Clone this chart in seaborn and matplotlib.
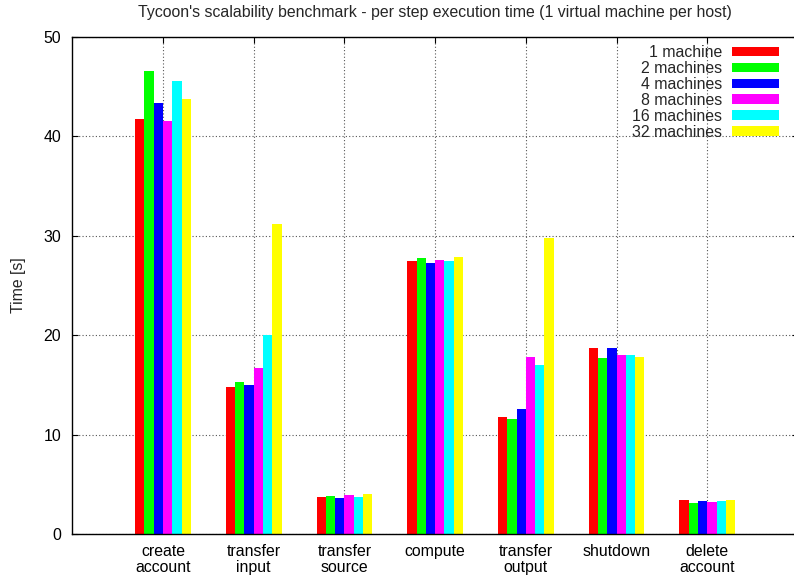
import matplotlib
matplotlib.use("Agg")
import matplotlib.pyplot as plt
from matplotlib.patches import Patch
import seaborn as sns
import pandas as pd

steps = ["create\naccount", "transfer\ninput", "transfer\nsource", "compute",
         "transfer\noutput", "shutdown", "delete\naccount"]
series = ["1 machine", "2 machines", "4 machines", "8 machines", "16 machines", "32 machines"]
colors = ["#ff0000", "#00ff00", "#0000ff", "#ff00ff", "#00ffff", "#ffff00"]

t_1 = [41.7, 14.8, 3.67, 27.4, 11.8, 18.7, 3.43]
t_2 = [46.6, 15.3, 3.84, 27.8, 11.6, 17.7, 3.16]
t_4 = [43.3, 14.95, 3.64, 27.2, 12.6, 18.75, 3.33]
t_8 = [41.5, 16.7, 3.90, 27.5, 17.75, 17.95, 3.26]
t_16 = [45.5, 20.05, 3.70, 27.4, 17.0, 17.95, 3.30]
t_32 = [43.7, 31.2, 4.07, 27.9, 29.8, 17.8, 3.40]
all_vals = [t_1, t_2, t_4, t_8, t_16, t_32]

rows = []
for s, vals in zip(series, all_vals):
    for st, v in zip(steps, vals):
        rows.append({"step": st, "machines": s, "time": v})
df = pd.DataFrame(rows)

sns.set_style("ticks")
plt.rcParams["font.family"] = ["Liberation Sans", "DejaVu Sans"]
FS = 11.4
plt.rcParams["font.size"] = FS

W, H = 794, 575
fig = plt.figure(figsize=(W / 100, H / 100), dpi=100)
left_px, right_px, top_px, bot_px = 72.3, 798.0, 36.7, 534.0
ax = fig.add_axes([left_px / W, 1 - bot_px / H, (right_px - left_px) / W, (bot_px - top_px) / H])

sns.barplot(data=df, x="step", y="time", hue="machines", order=steps, hue_order=series,
            palette=colors, saturation=1, width=0.614, errorbar=None, linewidth=0,
            legend=False, ax=ax)

ax.set_xlim(-1, 7)
ax.set_ylim(0, 50)
ax.set_yticks([0, 10, 20, 30, 40, 50])
ax.set_axisbelow(True)
ax.grid(True, color="#555555", linestyle=(0, (1, 2)), linewidth=0.8)
for sp in ax.spines.values():
    sp.set_visible(True)
    sp.set_color("black")
    sp.set_linewidth(1.0)
ax.tick_params(axis="both", direction="in", length=4.5, width=0.8, top=True, right=True,
               labelsize=FS, colors="black")
ax.tick_params(axis="y", pad=8)
ax.tick_params(axis="x", pad=7)
for lbl in ax.get_xticklabels():
    lbl.set_linespacing(1.1)
ax.set_xlabel("")
ax.set_ylabel("Time [s]", fontsize=FS)
ax.yaxis.set_label_coords((26 - left_px) / (right_px - left_px), 0.5)

fig.text((left_px + right_px) / 2 / W, 1 - 12.5 / H,
         "Tycoon's scalability benchmark - per step execution time (1 virtual machine per host)",
         ha="center", va="center", fontsize=FS)

handles = [Patch(facecolor=c, edgecolor="none", label=s) for c, s in zip(colors, series)]
fig.legend(handles=handles, loc="upper right", bbox_to_anchor=(779 / W, 1 - 45 / H),
           frameon=False, markerfirst=False, fontsize=FS, borderpad=0, borderaxespad=0,
           labelspacing=0.06, handlelength=2.95, handleheight=0.55, handletextpad=0.62)

fig.savefig("out.png", dpi=100)
